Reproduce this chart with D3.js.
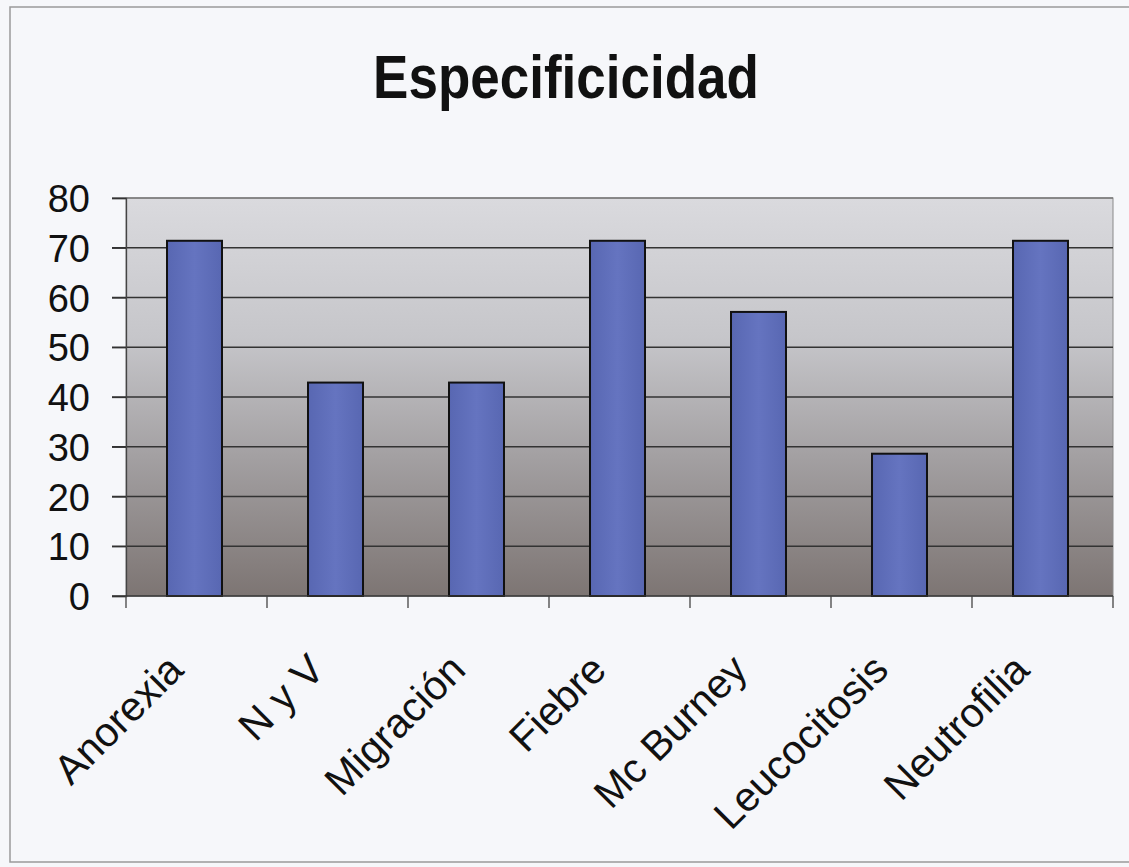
<!DOCTYPE html>
<html lang="es">
<head>
  <title>Especificicidad</title>
  <meta charset="utf-8">
  <script src="https://d3js.org/d3.v7.min.js"></script>
  <style>
    body { margin: 0; background: #f6f7fa; }
    svg text { font-family: "Liberation Sans", Arial, sans-serif; fill: #111; }
  </style>
</head>
<body>
<div class="chart"></div>

<script type="text/javascript">

var categories = ["Anorexia", "N y V", "Migración", "Fiebre", "Mc Burney", "Leucocitosis", "Neutrofilia"];
var values = [71.4, 42.9, 42.9, 71.4, 57.1, 28.6, 71.4];
var yTicks = [0, 10, 20, 30, 40, 50, 60, 70, 80];
var title = "Especificicidad";

var width = 1129,
    height = 867;

var plot = {left: 126, right: 1113, top: 198, bottom: 596};

var svg = d3.select(".chart").append("svg")
    .attr("width", width)
    .attr("height", height);

var defs = svg.append("defs");

// plot background: light grey at top, dark brownish grey at bottom
var bg = defs.append("linearGradient")
    .attr("id", "bg").attr("x1", 0).attr("y1", 0).attr("x2", 0).attr("y2", 1);
bg.append("stop").attr("offset", "0%").attr("stop-color", "#dadade");
bg.append("stop").attr("offset", "35%").attr("stop-color", "#c6c6ca");
bg.append("stop").attr("offset", "65%").attr("stop-color", "#a3a0a2");
bg.append("stop").attr("offset", "100%").attr("stop-color", "#7d7573");

var barGrad = defs.append("linearGradient")
    .attr("id", "bar").attr("x1", 0).attr("y1", 0).attr("x2", 1).attr("y2", 0);
barGrad.append("stop").attr("offset", "0%").attr("stop-color", "#5867b2");
barGrad.append("stop").attr("offset", "50%").attr("stop-color", "#6574c0");
barGrad.append("stop").attr("offset", "100%").attr("stop-color", "#5867b2");

// outer frame of the scanned chart
svg.append("rect")
    .attr("x", 10).attr("y", 7)
    .attr("width", 1130).attr("height", 855)
    .attr("fill", "none")
    .attr("stroke", "#9a9a9a")
    .attr("stroke-width", 1.5);

svg.append("g")
    .attr("transform", "translate(566,98) scale(1,1.15)")
  .append("text")
    .attr("text-anchor", "middle")
    .style("font-size", "53px")
    .style("font-weight", "bold")
    .text(title);

var x = d3.scaleBand()
    .domain(categories)
    .range([plot.left, plot.right])
    .paddingInner(0.61)
    .paddingOuter(0.305);

var y = d3.scaleLinear()
    .domain([0, 80])
    .range([plot.bottom, plot.top]);

var g = svg.append("g");

g.append("rect")
    .attr("x", plot.left)
    .attr("y", plot.top)
    .attr("width", plot.right - plot.left)
    .attr("height", plot.bottom - plot.top)
    .attr("fill", "url(#bg)")
    .attr("stroke", "#8a8a8a")
    .attr("stroke-width", 1);

// gridlines with ticks sticking out to the left
g.selectAll(".grid")
    .data(yTicks.filter(function(d){ return d > 0; }))
    .enter()
    .append("line")
    .attr("x1", plot.left - 14)
    .attr("x2", plot.right)
    .attr("y1", function(d){ return y(d); })
    .attr("y2", function(d){ return y(d); })
    .attr("stroke", function(d){ return d == 80 ? "#777" : "#333"; })
    .attr("stroke-width", 1.3);

g.selectAll(".bar")
    .data(values)
    .enter()
    .append("rect")
    .attr("x", function(d, i){ return x(categories[i]) - 2; })
    .attr("y", function(d){ return y(d); })
    .attr("width", x.bandwidth())
    .attr("height", function(d){ return y(0) - y(d); })
    .attr("fill", "url(#bar)")
    .attr("stroke", "#111")
    .attr("stroke-width", 2);

// y axis
var yAxis = d3.axisLeft(y)
    .tickValues(yTicks)
    .tickSize(14)
    .tickPadding(22);

var ya = svg.append("g")
    .attr("transform", "translate(" + plot.left + ",0)")
    .call(yAxis);
ya.select(".domain").attr("stroke", "#444").attr("stroke-width", 1.3);
ya.selectAll(".tick line").attr("stroke", "#333").attr("stroke-width", 1.3);
ya.selectAll("text")
    .style("font-size", "38px")
    .attr("dy", "0.36em")
    .attr("fill", "#111");

// x axis baseline and boundary ticks
svg.append("line")
    .attr("x1", plot.left - 14).attr("x2", plot.right)
    .attr("y1", plot.bottom).attr("y2", plot.bottom)
    .attr("stroke", "#333").attr("stroke-width", 1.5);

var bounds = d3.range(categories.length + 1).map(function(i){
  return plot.left + i * x.step();
});
svg.selectAll(".xtick")
    .data(bounds)
    .enter()
    .append("line")
    .attr("x1", function(d){ return d; })
    .attr("x2", function(d){ return d; })
    .attr("y1", plot.bottom)
    .attr("y2", plot.bottom + 12)
    .attr("stroke", "#444")
    .attr("stroke-width", 1.3);

svg.selectAll(".xlabel")
    .data(categories)
    .enter()
    .append("text")
    .attr("text-anchor", "end")
    .style("font-size", "41px")
    .attr("transform", function(d){
      var cx = x(d) + x.bandwidth() / 2 - 11;
      return "translate(" + cx + "," + (plot.bottom + 76) + ") rotate(-45)";
    })
    .text(function(d){ return d; });

</script>

</body>
</html>
